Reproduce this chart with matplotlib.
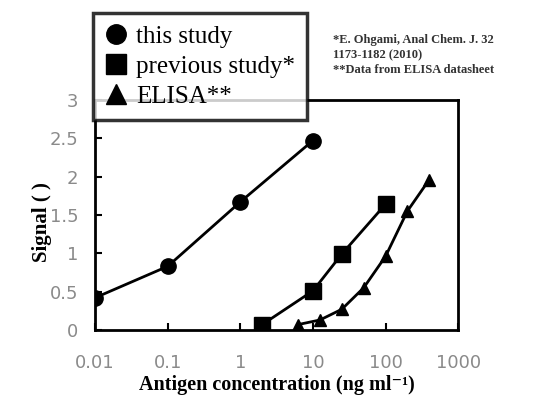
import numpy as np
import matplotlib
matplotlib.use("Agg")
import matplotlib.pyplot as plt
from matplotlib.lines import Line2D

# this study
x_this = [0.01, 0.1, 1, 10]
y_this = [0.42, 0.83, 1.67, 2.47]
# previous study*
x_prev = [2, 10, 25, 100]
y_prev = [0.07, 0.51, 0.99, 1.64]
# ELISA**
x_elisa = [6.25, 12.5, 25, 50, 100, 200, 400]
y_elisa = [0.07, 0.13, 0.27, 0.55, 0.96, 1.55, 1.96]

xticks = [0.01, 0.1, 1, 10, 100, 1000]
xticklabels = ["0.01", "0.1", "1", "10", "100", "1000"]
yticks = [0, 0.5, 1, 1.5, 2, 2.5, 3]
yticklabels = ["0", "0.5", "1", "1.5", "2", "2.5", "3"]

serif = ["Liberation Serif", "DejaVu Serif"]

fig = plt.figure(figsize=(5.5, 3.98), dpi=100)
ax = fig.add_axes([0.173, 0.171, 0.660, 0.578])

ax.plot(x_this, y_this, color="black", lw=2, marker="o", ms=11)
ax.plot(x_prev, y_prev, color="black", lw=2, marker="s", ms=11)
ax.plot(x_elisa, y_elisa, color="black", lw=2, marker="^", ms=8)

ax.set_xscale("log")
ax.set_xlim(0.01, 1000)
ax.set_ylim(0, 3)
ax.set_xticks(xticks)
ax.set_xticklabels(xticklabels)
ax.minorticks_off()
ax.set_yticks(yticks)
ax.set_yticklabels(yticklabels)
ax.tick_params(direction="in", length=5, width=1.5, labelsize=13,
               labelcolor="#8a8a8a", top=False, right=False)
ax.tick_params(axis="x", pad=17)
ax.tick_params(axis="y", pad=12)
for s in ax.spines.values():
    s.set_linewidth(2)

ax.set_xlabel("Antigen concentration (ng ml\u207b\u00b9)", fontsize=14.5,
              fontweight="bold", family=serif)
ax.xaxis.set_label_coords(0.5, -0.195)
ax.set_ylabel("Signal ( )", fontsize=15, fontweight="bold", family=serif)
ax.yaxis.set_label_coords(-0.118, 0.47)

handles = [Line2D([], [], color="black", marker="o", ls="none", ms=14),
           Line2D([], [], color="black", marker="s", ls="none", ms=14),
           Line2D([], [], color="black", marker="^", ls="none", ms=14)]
leg = ax.legend(handles, ["this study", "previous study*", "ELISA**"],
                loc="upper left", bbox_to_anchor=(-0.005, 1.378),
                prop={"family": serif, "size": 18},
                frameon=True, fancybox=False, edgecolor="black",
                handletextpad=0.4, borderpad=0.5, labelspacing=0.3,
                handlelength=0.8, borderaxespad=0)
leg.get_frame().set_linewidth(2.5)
leg.set_zorder(5)

fig.text(0.605, 0.915, "*E. Ohgami, Anal Chem. J. 32\n1173-1182 (2010)\n**Data from ELISA datasheet",
         fontsize=9, fontweight="bold", family=serif,
         color="#333333", va="top", linespacing=1.35)

fig.savefig("out.png", dpi=100)
